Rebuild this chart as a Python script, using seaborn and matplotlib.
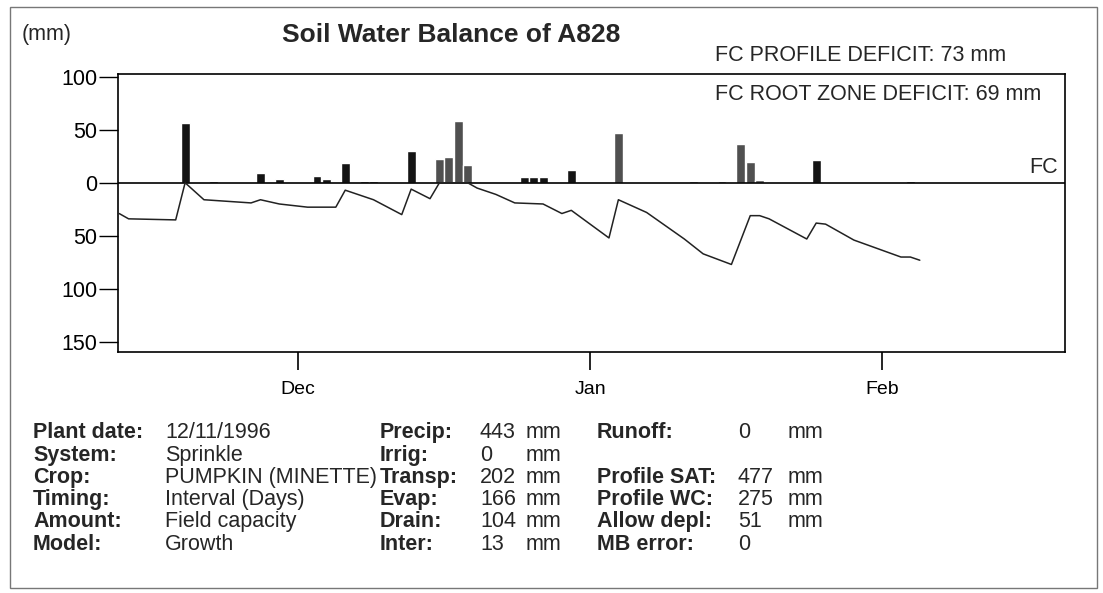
import pandas as pd
import matplotlib
matplotlib.use("Agg")
import matplotlib.pyplot as plt
from matplotlib.patches import Rectangle
import seaborn as sns

plant_date = "1996-11-12"

# daily rain events drawn dark (mm)
rain_dates = ["1996-11-19", "1996-11-22", "1996-11-27", "1996-11-29", "1996-12-03",
              "1996-12-04", "1996-12-06", "1996-12-08", "1996-12-09", "1996-12-13",
              "1996-12-25", "1996-12-26", "1996-12-27", "1996-12-30", "1997-01-25",
              "1997-02-04"]
rain_mm = [56, 2, 9, 4, 6, 4, 19, 2, 2, 30, 5, 5, 5, 12, 21, 2]

# daily rain events drawn grey (mm)
rain2_dates = ["1996-12-16", "1996-12-17", "1996-12-18", "1996-12-19", "1997-01-04",
               "1997-01-12", "1997-01-15", "1997-01-17", "1997-01-18", "1997-01-19"]
rain2_mm = [22, 24, 58, 17, 47, 2, 2, 37, 20, 3]

# soil water deficit below field capacity (mm)
deficit_dates = ["1996-11-12", "1996-11-13", "1996-11-18", "1996-11-19", "1996-11-21",
                 "1996-11-26", "1996-11-27", "1996-11-29", "1996-12-02", "1996-12-05",
                 "1996-12-06", "1996-12-09", "1996-12-12", "1996-12-13", "1996-12-15",
                 "1996-12-16", "1996-12-19", "1996-12-20", "1996-12-22", "1996-12-24",
                 "1996-12-27", "1996-12-29", "1996-12-30", "1997-01-03", "1997-01-04",
                 "1997-01-07", "1997-01-11", "1997-01-13", "1997-01-16", "1997-01-18",
                 "1997-01-19", "1997-01-20", "1997-01-24", "1997-01-25", "1997-01-26",
                 "1997-01-29", "1997-02-03", "1997-02-04", "1997-02-05"]
deficit_mm = [-29, -34, -35, 0, -16, -19, -16, -20, -23, -23,
              -7, -16, -30, -6, -15, 0, 0, -5, -11, -19,
              -20, -29, -26, -52, -16, -28, -53, -67, -77, -31,
              -31, -34, -53, -38, -39, -54, -70, -70, -73]

y_ticks = [100, 50, 0, -50, -100, -150]
y_tick_labels = ["100", "50", "0", "50", "100", "150"]
month_ticks = ["1996-12-01", "1997-01-01", "1997-02-01"]
month_labels = ["Dec", "Jan", "Feb"]

info_labels = ["Plant date:", "System:", "Crop:", "Timing:", "Amount:", "Model:"]
info_values = ["12/11/1996", "Sprinkle", "PUMPKIN (MINETTE)", "Interval (Days)",
               "Field capacity", "Growth"]
flux_labels = ["Precip:", "Irrig:", "Transp:", "Evap:", "Drain:", "Inter:"]
flux_values = ["443", "0", "202", "166", "104", "13"]
profile_labels = ["Runoff:", "", "Profile SAT:", "Profile WC:", "Allow depl:", "MB error:"]
profile_values = ["0", "", "477", "275", "51", "0"]
profile_units = ["mm", "", "mm", "mm", "mm", ""]

sns.set_style("ticks")
plt.rcParams["font.family"] = ["Liberation Sans", "DejaVu Sans"]

W, H = 1103, 593


def fx(x):
    return x / W


def fy(y):
    return 1 - y / H


fig = plt.figure(figsize=(W / 100, H / 100), dpi=100)
ax = fig.add_axes([fx(118), fy(352), (1065 - 118) / W, (352 - 74) / H])

ax.bar(pd.to_datetime(rain_dates), rain_mm, width=0.95, color="#141414", zorder=2)
ax.bar(pd.to_datetime(rain2_dates), rain2_mm, width=0.95, color="#505050", zorder=2)
ax.axhline(0, color="black", lw=1.2, zorder=3)
sns.lineplot(x=pd.to_datetime(deficit_dates), y=deficit_mm, ax=ax,
             color="#222222", lw=1.1, zorder=4)

ax.set_xlim(pd.Timestamp("1996-11-11 21:00"), pd.Timestamp("1997-02-20 10:00"))
ax.set_ylim(-159.5, 102.5)
ax.set_yticks(y_ticks)
ax.set_yticklabels(y_tick_labels)
ax.set_xticks(pd.to_datetime(month_ticks))
ax.set_xticklabels(month_labels)
ax.set_xlabel("")
ax.set_ylabel("")
ax.tick_params(axis="y", direction="out", length=14, width=1, pad=1,
               labelsize=15.5, colors="black")
ax.tick_params(axis="x", direction="out", length=13, width=1.2, pad=8,
               labelsize=14, colors="black")
for s in ax.spines.values():
    s.set_visible(True)
    s.set_color("black")
    s.set_linewidth(1.2)

# header texts
fig.text(fx(22), fy(40), "(mm)", fontsize=15.5, va="baseline")
fig.text(fx(282), fy(42), "Soil Water Balance of A828", fontsize=19,
         weight="bold", va="baseline")
fig.text(fx(715), fy(61), "FC PROFILE DEFICIT: 73 mm", fontsize=15.5, va="baseline")
fig.text(fx(715), fy(100), "FC ROOT ZONE DEFICIT: 69 mm", fontsize=15.5, va="baseline")
fig.text(fx(1058), fy(173), "FC", fontsize=15.5, va="baseline", ha="right")

# summary block under the chart
rows_y = [438, 461, 483, 505, 527, 550]
for i, ry in enumerate(rows_y):
    fig.text(fx(33), fy(ry), info_labels[i], fontsize=15.5, weight="bold", va="baseline")
    fig.text(fx(165), fy(ry), info_values[i], fontsize=15.5, va="baseline")
    fig.text(fx(380), fy(ry), flux_labels[i], fontsize=15.5, weight="bold", va="baseline")
    fig.text(fx(480), fy(ry), flux_values[i], fontsize=15.5, va="baseline")
    fig.text(fx(526), fy(ry), "mm", fontsize=15.5, va="baseline")
    if profile_labels[i]:
        fig.text(fx(597), fy(ry), profile_labels[i], fontsize=15.5, weight="bold",
                 va="baseline")
        fig.text(fx(738), fy(ry), profile_values[i], fontsize=15.5, va="baseline")
        fig.text(fx(788), fy(ry), profile_units[i], fontsize=15.5, va="baseline")

# outer frame of the printout
fig.patches.append(Rectangle((fx(10), fy(588)), (1097 - 10) / W, (588 - 7) / H,
                             transform=fig.transFigure, fill=False,
                             edgecolor="#777777", lw=1))

plt.savefig("out.png", dpi=100)
